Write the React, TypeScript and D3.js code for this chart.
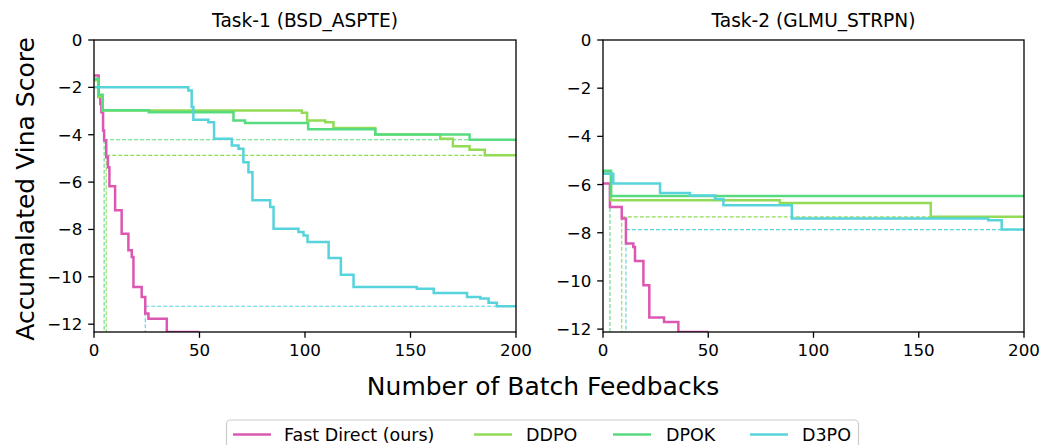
import React from 'react';
import * as d3 from 'd3';

// ---------- data ----------
const xTicks = [0, 50, 100, 150, 200];
const yTicks = [0, -2, -4, -6, -8, -10, -12];
const seriesNames = ['Fast Direct (ours)', 'DDPO', 'DPOK', 'D3PO'];
const seriesColors = ['#db57b2', '#91db57', '#57db80', '#57d3db'];
const panelTitles = ['Task-1 (BSD_ASPTE)', 'Task-2 (GLMU_STRPN)'];

// Task-1 (step-after points: x where value changes, value from there)
const t1FastX = [0, 2.2, 3.0, 3.5, 4.3, 4.8, 5.8, 6.6, 7.3, 10.0, 13.1, 16.3, 17.9, 18.7, 22.6, 24.3, 25.8, 34.5, 50];
const t1FastY = [-1.5, -2.41, -2.7, -3.05, -3.82, -4.24, -4.94, -5.37, -6.18, -7.19, -8.18, -8.88, -9.16, -10.43, -10.85, -11.55, -11.77, -12.33, -12.33];
const t1DdpoX = [0, 2.0, 4.1, 98.5, 101.0, 109.6, 113.5, 133.3, 164.1, 170.1, 178.0, 185.2, 200];
const t1DdpoY = [-1.7, -2.4, -2.98, -3.07, -3.4, -3.47, -3.72, -3.99, -4.17, -4.49, -4.63, -4.87, -4.87];
const t1DpokX = [0, 2.2, 4.1, 26.0, 66.1, 71.6, 101.5, 133.3, 178.0, 200];
const t1DpokY = [-1.64, -2.31, -2.97, -3.05, -3.4, -3.51, -3.77, -3.99, -4.21, -4.21];
const t1D3poX = [0, 44.7, 46.3, 47.1, 54.2, 56.9, 65.3, 68.5, 70.8, 73.2, 75.1, 83.5, 85.1, 96.9, 99.3, 101.2, 111.2, 117.0, 123.0, 153.0, 161.0, 176.8, 183.1, 187.0, 190.9, 200];
const t1D3poY = [-1.99, -2.13, -2.83, -3.37, -3.47, -4.17, -4.45, -4.59, -5.16, -5.58, -6.77, -7.05, -7.97, -8.11, -8.25, -8.53, -9.2, -9.91, -10.43, -10.5, -10.68, -10.85, -10.92, -11.1, -11.24, -11.24];

// Task-2
const t2FastX = [0, 3.3, 8.9, 10.9, 14.4, 15.2, 19.2, 22.0, 29.0, 35.8, 50];
const t2FastY = [-5.96, -6.93, -7.41, -8.45, -8.59, -9.17, -10.18, -11.52, -11.7, -12.12, -12.12];
const t2DdpoX = [0, 3.8, 84.0, 155.7, 200];
const t2DdpoY = [-5.5, -6.65, -6.77, -7.34, -7.34];
const t2DpokX = [0, 3.8, 200];
const t2DpokY = [-5.43, -6.47, -6.47];
const t2D3poX = [0, 4.9, 27.1, 41.3, 53.2, 57.2, 89.7, 183.0, 189.4, 200];
const t2D3poY = [-5.55, -5.96, -6.35, -6.45, -6.6, -6.86, -7.41, -7.48, -7.87, -7.87];

type Pt = [number, number];
const zip = (xs: number[], ys: number[]): Pt[] => xs.map((x, i) => [x, ys[i]]);

const panels = [
  { title: panelTitles[0], series: [zip(t1FastX, t1FastY), zip(t1DdpoX, t1DdpoY), zip(t1DpokX, t1DpokY), zip(t1D3poX, t1D3poY)], left: 94, right: 516 },
  { title: panelTitles[1], series: [zip(t2FastX, t2FastY), zip(t2DdpoX, t2DdpoY), zip(t2DpokX, t2DpokY), zip(t2D3poX, t2D3poY)], left: 603, right: 1024 },
];

const TOP = 40;
const BOTTOM = 332;
const FONT = 'DejaVu Sans, sans-serif';

function Panel({ p, idx }: { p: typeof panels[number]; idx: number }) {
  const allY = p.series.flat().map((d) => d[1]);
  const ymin = d3.min(allY) as number;
  const x = d3.scaleLinear().domain([0, 200]).range([p.left, p.right]);
  const y = d3.scaleLinear().domain([ymin, 0]).range([BOTTOM, TOP]);
  const line = d3.line<Pt>().x((d) => x(d[0])).y((d) => y(d[1])).curve(d3.curveStepAfter);
  const fast = p.series[0];
  const clipId = `clip${idx}`;

  const guides = p.series.slice(1).map((s, i) => {
    const final = s[s.length - 1][1];
    const hit = fast.find((d) => d[1] <= final);
    const cx = hit ? hit[0] : 200;
    return { final, cx, color: seriesColors[i + 1] };
  });

  return (
    <g>
      <defs>
        <clipPath id={clipId}>
          <rect x={p.left} y={TOP} width={p.right - p.left} height={BOTTOM - TOP} />
        </clipPath>
      </defs>
      <g clipPath={`url(#${clipId})`}>
        {guides.map((g, i) => (
          <g key={i} stroke={g.color} strokeWidth={1.1} strokeDasharray="4,2" fill="none">
            <line x1={x(g.cx)} x2={x(200)} y1={y(g.final)} y2={y(g.final)} />
            <line x1={x(g.cx)} x2={x(g.cx)} y1={y(g.final)} y2={y(ymin)} />
          </g>
        ))}
        {p.series.map((s, i) => (
          <path key={i} d={line(s) as string} fill="none" stroke={seriesColors[i]} strokeWidth={2.5} strokeLinejoin="miter" />
        ))}
      </g>
      <rect x={p.left} y={TOP} width={p.right - p.left} height={BOTTOM - TOP} fill="none" stroke="#000" strokeWidth={1.3} />
      {xTicks.map((t) => (
        <g key={t}>
          <line x1={x(t)} x2={x(t)} y1={BOTTOM} y2={BOTTOM + 5.8} stroke="#000" strokeWidth={1.3} />
          <text x={x(t)} y={BOTTOM + 24} textAnchor="middle" fontSize={16.7} fontFamily={FONT} fill="#000">{t}</text>
        </g>
      ))}
      {yTicks.map((t) => (
        <g key={t}>
          <line x1={p.left - 5.8} x2={p.left} y1={y(t)} y2={y(t)} stroke="#000" strokeWidth={1.3} />
          <text x={p.left - 11.6} y={y(t)} dy="0.36em" textAnchor="end" fontSize={16.7} fontFamily={FONT} fill="#000">{t < 0 ? `\u2212${Math.abs(t)}` : `${t}`}</text>
        </g>
      ))}
      <text x={(p.left + p.right) / 2} y={TOP - 13} textAnchor="middle" fontSize={18.6} fontFamily={FONT} fill="#000">{p.title}</text>
    </g>
  );
}

const legendItems = [
  { handle: 233, text: 284 },
  { handle: 474, text: 526 },
  { handle: 613, text: 666 },
  { handle: 750, text: 802 },
];

export default function App() {
  return (
    <svg width={1043} height={445} style={{ position: 'absolute', left: 0, top: 0 }} fontFamily={FONT}>
      <rect width={1043} height={445} fill="#fff" />
      {panels.map((p, i) => <Panel key={i} p={p} idx={i} />)}
      <text transform={`translate(34,189) rotate(-90)`} textAnchor="middle" fontSize={25} fill="#000">Accumalated Vina Score</text>
      <text x={543} y={395} textAnchor="middle" fontSize={25} fill="#000">Number of Batch Feedbacks</text>
      <rect x={226.5} y={420} width={632} height={40} rx={4} fill="#fff" stroke="#cccccc" strokeWidth={1.2} />
      {legendItems.map((it, i) => (
        <g key={i}>
          <line x1={it.handle} x2={it.handle + 38} y1={434.5} y2={434.5} stroke={seriesColors[i]} strokeWidth={2.5} />
          <text x={it.text} y={441} fontSize={17.5} fill="#000">{seriesNames[i]}</text>
        </g>
      ))}
    </svg>
  );
}
